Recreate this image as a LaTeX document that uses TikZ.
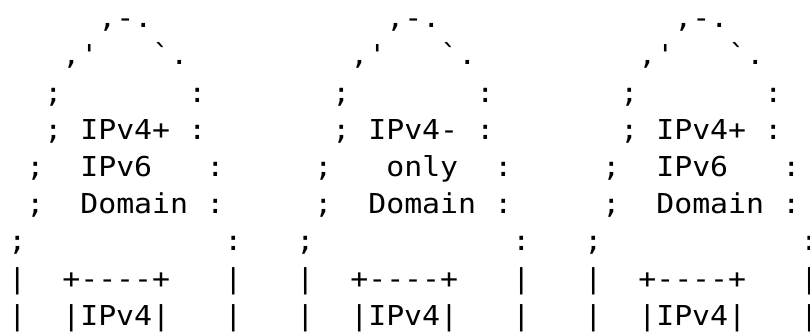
\documentclass[tikz,border=0pt]{standalone}
\usepackage{fontspec}
\setmonofont[FakeStretch=1.09]{DejaVu Sans Mono}

\tikzset{
  glyphs/.style={anchor=base west, inner sep=0pt, outer sep=0pt,
    font=\ttfamily\fontsize{27.4}{33}\selectfont, text=black}
}

% one run of characters, placed on the character grid: column, row
\newcommand\charat[4]{%
  \node[glyphs] (#1) at ({8.3+18*(#2)},{27.7+37.2*(#3)}) {#4};}

% one domain outline: name, column offset, first label line,
% second label line and its column
\newcommand\tower[5]{%
  \charat{#1-top}{#2+5}{0}{,-.}
  \charat{#1-nw}{#2+3}{1}{,'}
  \charat{#1-ne}{#2+8}{1}{`.}
  \charat{#1-l3}{#2+2}{2}{;}
  \charat{#1-r3}{#2+10}{2}{:}
  \charat{#1-l4}{#2+2}{3}{;}
  \charat{#1-lab1}{#2+4}{3}{#3}
  \charat{#1-r4}{#2+10}{3}{:}
  \charat{#1-l5}{#2+1}{4}{;}
  \charat{#1-lab2}{#2+#5}{4}{#4}
  \charat{#1-r5}{#2+11}{4}{:}
  \charat{#1-l6}{#2+1}{5}{;}
  \charat{#1-lab3}{#2+4}{5}{Domain}
  \charat{#1-r6}{#2+11}{5}{:}
  \charat{#1-l7}{#2+0}{6}{;}
  \charat{#1-r7}{#2+12}{6}{:}
  \charat{#1-l8}{#2+0}{7}{|}
  \charat{#1-boxtop}{#2+3}{7}{+----+}
  \charat{#1-r8}{#2+12}{7}{|}
  \charat{#1-l9}{#2+0}{8}{|}
  \charat{#1-box}{#2+3}{8}{|IPv4|}
  \charat{#1-r9}{#2+12}{8}{|}
}

\begin{document}
\begin{tikzpicture}[x=1pt, y=-1pt]
  \useasboundingbox (0,0) rectangle (810,332);
  \fill[white] (0,0) rectangle (810,332);
  \clip (0,0) rectangle (810,332);
  \tower{dual-a}{0}{IPv4+}{IPv6}{4}
  \tower{v4only}{16}{IPv4-}{only}{5}
  \tower{dual-b}{32}{IPv4+}{IPv6}{4}
\end{tikzpicture}
\end{document}
